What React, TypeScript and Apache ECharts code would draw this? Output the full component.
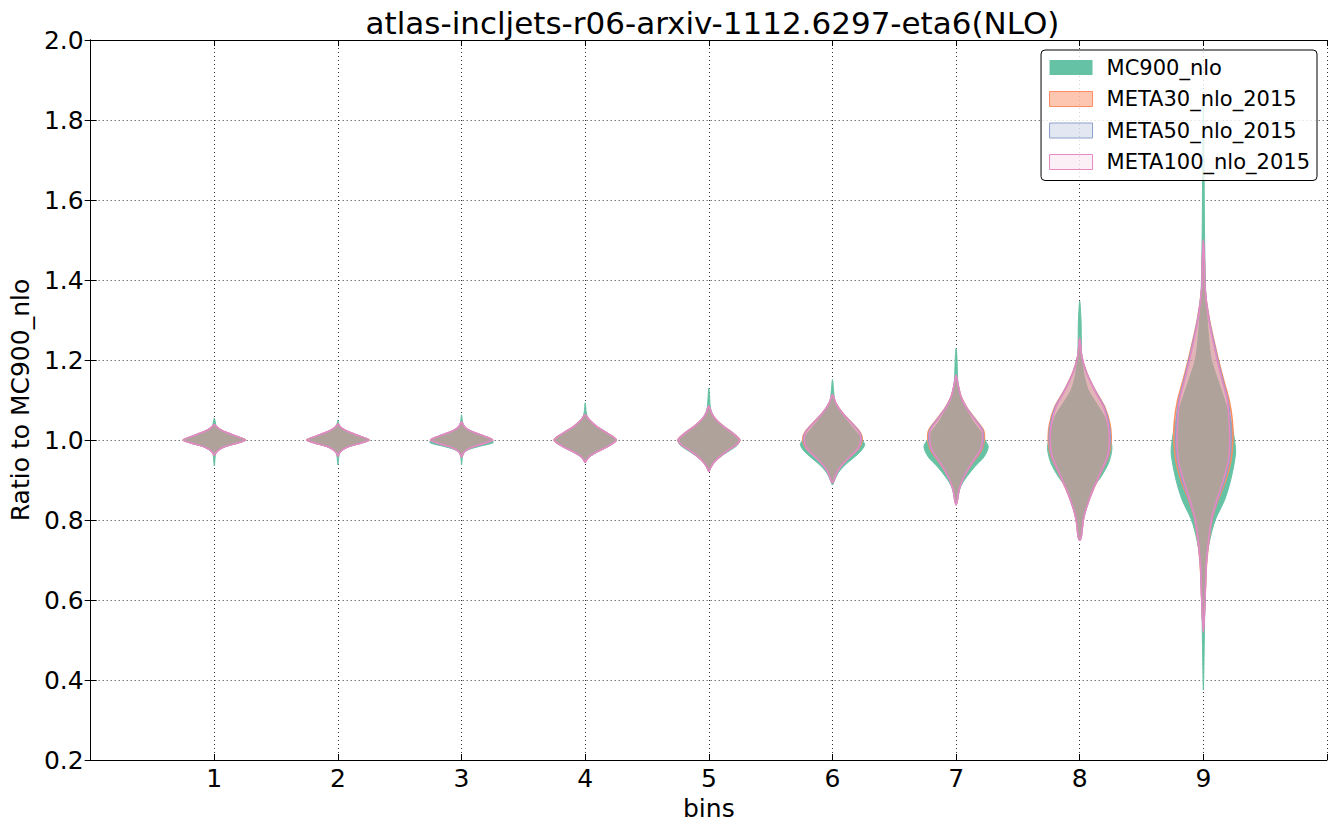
import React, { useEffect, useRef } from "react";
import * as echarts from "echarts";

// ---- data ----
const TITLE = "atlas-incljets-r06-arxiv-1112.6297-eta6(NLO)";
const binPositions = [1, 2, 3, 4, 5, 6, 7, 8, 9];
const seriesNames = ["MC900_nlo", "META30_nlo_2015", "META50_nlo_2015", "META100_nlo_2015"];
const yTicks = [0.2, 0.4, 0.6, 0.8, 1.0, 1.2, 1.4, 1.6, 1.8, 2.0];

// Each violin: [ratio value, relative half-width], listed from top to bottom
const mc900Profiles: number[][][] = [
  [[1.055, 0], [1.045, 0.03], [1.035, 0.06], [1.026, 0.2], [1.018, 0.4], [1.009, 0.7], [1.0, 0.97], [0.992, 0.72], [0.984, 0.36], [0.976, 0.15], [0.968, 0.05], [0.96, 0.03], [0.935, 0]],
  [[1.05, 0], [1.04, 0.03], [1.033, 0.07], [1.026, 0.19], [1.018, 0.4], [1.009, 0.7], [1.0, 0.97], [0.992, 0.72], [0.984, 0.36], [0.976, 0.15], [0.968, 0.05], [0.96, 0.03], [0.938, 0]],
  [[1.063, 0], [1.045, 0.03], [1.035, 0.07], [1.026, 0.2], [1.018, 0.42], [1.009, 0.72], [1.0, 0.95], [0.993, 0.98], [0.984, 0.55], [0.976, 0.22], [0.968, 0.08], [0.96, 0.03], [0.938, 0]],
  [[1.093, 0], [1.07, 0.03], [1.06, 0.06], [1.051, 0.13], [1.034, 0.36], [1.018, 0.67], [1.0, 0.97], [0.984, 0.72], [0.972, 0.42], [0.96, 0.17], [0.952, 0.06], [0.946, 0]],
  [[1.13, 0], [1.1, 0.03], [1.08, 0.05], [1.059, 0.15], [1.038, 0.38], [1.022, 0.6], [1.009, 0.82], [1.0, 0.95], [0.988, 0.9], [0.976, 0.7], [0.963, 0.45], [0.947, 0.2], [0.934, 0.08], [0.922, 0]],
  [[1.151, 0], [1.12, 0.04], [1.1, 0.07], [1.084, 0.15], [1.059, 0.35], [1.034, 0.6], [1.013, 0.82], [1.0, 0.93], [0.988, 1.0], [0.972, 0.88], [0.955, 0.65], [0.938, 0.4], [0.918, 0.18], [0.9, 0.07], [0.888, 0]],
  [[1.229, 0], [1.2, 0.03], [1.167, 0.04], [1.142, 0.06], [1.117, 0.12], [1.083, 0.3], [1.05, 0.5], [1.017, 0.8], [1.0, 0.9], [0.983, 1.0], [0.958, 0.87], [0.933, 0.58], [0.908, 0.33], [0.883, 0.14], [0.858, 0.06], [0.842, 0]],
  [[1.347, 0], [1.3, 0.04], [1.25, 0.05], [1.2, 0.07], [1.16, 0.14], [1.126, 0.26], [1.1, 0.45], [1.06, 0.76], [1.03, 0.88], [1.0, 0.97], [0.976, 1.0], [0.943, 0.9], [0.909, 0.67], [0.876, 0.38], [0.834, 0.2], [0.8, 0.1], [0.76, 0.04], [0.75, 0]],
  [[1.85, 0], [1.7, 0.02], [1.5, 0.04], [1.35, 0.08], [1.25, 0.17], [1.2, 0.25], [1.15, 0.45], [1.1, 0.66], [1.05, 0.85], [1.0, 0.97], [0.965, 1.0], [0.9, 0.85], [0.85, 0.66], [0.8, 0.37], [0.75, 0.2], [0.7, 0.1], [0.6, 0.05], [0.5, 0.03], [0.375, 0]],
];

const meta30Profiles: number[][][] = [
  [[1.038, 0], [1.034, 0.06], [1.026, 0.19], [1.018, 0.4], [1.009, 0.7], [1.0, 0.97], [0.992, 0.7], [0.984, 0.35], [0.976, 0.15], [0.968, 0.05], [0.962, 0]],
  [[1.04, 0], [1.033, 0.07], [1.026, 0.19], [1.018, 0.4], [1.009, 0.7], [1.0, 0.97], [0.992, 0.7], [0.984, 0.35], [0.976, 0.15], [0.968, 0.05], [0.96, 0]],
  [[1.045, 0], [1.035, 0.07], [1.026, 0.2], [1.018, 0.42], [1.009, 0.72], [1.0, 0.97], [0.992, 0.72], [0.984, 0.4], [0.976, 0.17], [0.968, 0.06], [0.958, 0]],
  [[1.063, 0], [1.051, 0.12], [1.034, 0.35], [1.018, 0.67], [1.0, 0.97], [0.984, 0.7], [0.972, 0.4], [0.96, 0.15], [0.951, 0.05], [0.944, 0]],
  [[1.085, 0], [1.068, 0.08], [1.051, 0.22], [1.034, 0.46], [1.018, 0.74], [1.0, 0.97], [0.988, 0.86], [0.976, 0.63], [0.959, 0.35], [0.943, 0.15], [0.93, 0.05], [0.922, 0]],
  [[1.113, 0], [1.093, 0.1], [1.068, 0.31], [1.043, 0.6], [1.018, 0.87], [1.0, 0.93], [0.98, 0.83], [0.959, 0.56], [0.938, 0.3], [0.918, 0.13], [0.9, 0.05], [0.893, 0]],
  [[1.162, 0], [1.142, 0.05], [1.108, 0.16], [1.083, 0.32], [1.05, 0.62], [1.025, 0.85], [1.0, 0.88], [0.975, 0.8], [0.95, 0.58], [0.925, 0.37], [0.9, 0.2], [0.875, 0.09], [0.85, 0.04], [0.838, 0]],
  [[1.255, 0], [1.21, 0.06], [1.17, 0.21], [1.126, 0.47], [1.084, 0.77], [1.04, 0.94], [1.0, 0.98], [0.96, 0.9], [0.918, 0.66], [0.876, 0.42], [0.834, 0.22], [0.8, 0.11], [0.76, 0.05], [0.75, 0]],
  [[1.5, 0], [1.45, 0.03], [1.38, 0.05], [1.3, 0.19], [1.2, 0.47], [1.15, 0.63], [1.1, 0.8], [1.05, 0.9], [1.0, 0.92], [0.95, 0.86], [0.9, 0.7], [0.85, 0.46], [0.8, 0.27], [0.7, 0.11], [0.6, 0.05], [0.52, 0]],
];

const meta50Profiles: number[][][] = [
  [[1.038, 0], [1.034, 0.06], [1.026, 0.19], [1.018, 0.4], [1.009, 0.7], [1.0, 0.96], [0.992, 0.7], [0.984, 0.35], [0.976, 0.15], [0.968, 0.05], [0.962, 0]],
  [[1.04, 0], [1.033, 0.07], [1.026, 0.19], [1.018, 0.4], [1.009, 0.7], [1.0, 0.96], [0.992, 0.7], [0.984, 0.35], [0.976, 0.15], [0.968, 0.05], [0.96, 0]],
  [[1.045, 0], [1.035, 0.07], [1.026, 0.2], [1.018, 0.42], [1.009, 0.72], [1.0, 0.96], [0.992, 0.72], [0.984, 0.4], [0.976, 0.17], [0.968, 0.06], [0.958, 0]],
  [[1.063, 0], [1.051, 0.12], [1.034, 0.35], [1.018, 0.67], [1.0, 0.96], [0.984, 0.7], [0.972, 0.4], [0.96, 0.15], [0.951, 0.05], [0.944, 0]],
  [[1.085, 0], [1.068, 0.08], [1.051, 0.22], [1.034, 0.45], [1.018, 0.73], [1.0, 0.96], [0.988, 0.85], [0.976, 0.63], [0.959, 0.35], [0.943, 0.15], [0.93, 0.05], [0.922, 0]],
  [[1.113, 0], [1.093, 0.1], [1.068, 0.3], [1.043, 0.59], [1.018, 0.85], [1.0, 0.9], [0.98, 0.81], [0.959, 0.55], [0.938, 0.3], [0.918, 0.13], [0.9, 0.05], [0.893, 0]],
  [[1.162, 0], [1.142, 0.05], [1.108, 0.15], [1.083, 0.31], [1.05, 0.6], [1.025, 0.82], [1.0, 0.85], [0.975, 0.77], [0.95, 0.56], [0.925, 0.36], [0.9, 0.2], [0.875, 0.09], [0.85, 0.04], [0.838, 0]],
  [[1.255, 0], [1.21, 0.06], [1.17, 0.2], [1.126, 0.46], [1.084, 0.75], [1.04, 0.91], [1.0, 0.95], [0.96, 0.88], [0.918, 0.65], [0.876, 0.41], [0.834, 0.22], [0.8, 0.11], [0.76, 0.05], [0.75, 0]],
  [[1.5, 0], [1.45, 0.03], [1.38, 0.05], [1.3, 0.18], [1.2, 0.45], [1.15, 0.6], [1.1, 0.76], [1.05, 0.84], [1.0, 0.86], [0.95, 0.81], [0.9, 0.66], [0.85, 0.44], [0.8, 0.26], [0.7, 0.1], [0.6, 0.05], [0.52, 0]],
];

const meta100Profiles: number[][][] = [
  [[1.038, 0], [1.034, 0.06], [1.026, 0.19], [1.018, 0.4], [1.009, 0.7], [1.0, 0.96], [0.992, 0.7], [0.984, 0.35], [0.976, 0.15], [0.968, 0.05], [0.962, 0]],
  [[1.04, 0], [1.033, 0.07], [1.026, 0.19], [1.018, 0.4], [1.009, 0.7], [1.0, 0.96], [0.992, 0.7], [0.984, 0.35], [0.976, 0.15], [0.968, 0.05], [0.96, 0]],
  [[1.045, 0], [1.035, 0.07], [1.026, 0.2], [1.018, 0.42], [1.009, 0.72], [1.0, 0.96], [0.992, 0.72], [0.984, 0.4], [0.976, 0.17], [0.968, 0.06], [0.958, 0]],
  [[1.063, 0], [1.051, 0.12], [1.034, 0.35], [1.018, 0.67], [1.0, 0.96], [0.984, 0.7], [0.972, 0.4], [0.96, 0.15], [0.951, 0.05], [0.944, 0]],
  [[1.085, 0], [1.068, 0.08], [1.051, 0.22], [1.034, 0.45], [1.018, 0.72], [1.0, 0.95], [0.988, 0.85], [0.976, 0.63], [0.959, 0.35], [0.943, 0.15], [0.93, 0.05], [0.922, 0]],
  [[1.113, 0], [1.093, 0.1], [1.068, 0.3], [1.043, 0.58], [1.018, 0.84], [1.0, 0.88], [0.98, 0.8], [0.959, 0.55], [0.938, 0.3], [0.918, 0.13], [0.9, 0.05], [0.893, 0]],
  [[1.162, 0], [1.142, 0.05], [1.108, 0.15], [1.083, 0.3], [1.05, 0.58], [1.025, 0.8], [1.0, 0.82], [0.975, 0.75], [0.95, 0.55], [0.925, 0.36], [0.9, 0.2], [0.875, 0.09], [0.85, 0.04], [0.838, 0]],
  [[1.255, 0], [1.21, 0.06], [1.17, 0.2], [1.126, 0.45], [1.084, 0.73], [1.04, 0.88], [1.0, 0.92], [0.96, 0.86], [0.918, 0.64], [0.876, 0.41], [0.834, 0.22], [0.8, 0.11], [0.76, 0.05], [0.75, 0]],
  [[1.5, 0], [1.45, 0.03], [1.38, 0.05], [1.3, 0.17], [1.2, 0.43], [1.15, 0.58], [1.1, 0.74], [1.05, 0.8], [1.0, 0.82], [0.95, 0.78], [0.9, 0.62], [0.85, 0.42], [0.8, 0.25], [0.7, 0.1], [0.6, 0.05], [0.52, 0]],
];

// ---- styling ----
const FONT = "DejaVu Sans";
const HALF_WIDTH = 0.26; // x-axis units for relative width 1
const fills = ["#66c2a5", "rgba(252,141,98,0.5)", "rgba(141,160,203,0.25)", "rgba(231,138,195,0.125)"];
const strokes = ["#66c2a5", "#fc8d62", "#8da0cb", "#e78ac3"];
const strokeWidths = [1, 1.5, 1.5, 1.5];
const allProfiles = [mc900Profiles, meta30Profiles, meta50Profiles, meta100Profiles];

function makeSeries(si: number) {
  const profiles = allProfiles[si];
  return {
    type: "custom",
    name: seriesNames[si],
    xAxisIndex: 0,
    yAxisIndex: 0,
    z: 2 + si,
    itemStyle: { color: strokes[si] },
    data: binPositions.map((b) => [b]),
    renderItem: (params: any, api: any) => {
      const idx = params.dataIndex;
      const x = binPositions[idx];
      const prof = profiles[idx];
      const right: number[][] = [];
      const left: number[][] = [];
      prof.forEach(([y, w]) => {
        right.push(api.coord([x + w * HALF_WIDTH, y]));
        left.push(api.coord([x - w * HALF_WIDTH, y]));
      });
      const pts = right.concat(left.slice(1, left.length - 1).reverse());
      return {
        type: "polygon",
        shape: { points: pts, smooth: 0.3 },
        style: { fill: fills[si], stroke: strokes[si], lineWidth: strokeWidths[si] },
      };
    },
  };
}

export default function App() {
  const ref = useRef<HTMLDivElement>(null);
  useEffect(() => {
    if (!ref.current) return;
    const chart = echarts.init(ref.current, undefined, { renderer: "svg" });
    const axisLine = { show: true, lineStyle: { color: "#000", width: 1 } };
    const tick = { show: true, inside: true, length: 6, lineStyle: { color: "#000", width: 1 } };
    const dotted = { show: true, lineStyle: { color: "#333", width: 1, type: [1, 3] } };
    chart.setOption({
      animation: false,
      backgroundColor: "#fff",
      textStyle: { fontFamily: FONT },
      title: {
        text: TITLE,
        left: 707.5,
        top: 2,
        textAlign: "center",
        textStyle: { fontFamily: FONT, fontSize: 31, fontWeight: "normal", color: "#000" },
      },
      grid: { left: 88, top: 40, width: 1239, height: 720, containLabel: false },
      legend: {
        show: true,
        orient: "vertical",
        right: 20,
        top: 50,
        z: 10,
        selectedMode: false,
        backgroundColor: "rgba(255,255,255,0.8)",
        borderColor: "#000",
        borderWidth: 1,
        borderRadius: 4,
        padding: [7, 7, 8, 8],
        itemWidth: 43,
        itemHeight: 15,
        itemGap: 10.5,
        textStyle: { fontFamily: FONT, fontSize: 21, color: "#000", padding: [0, 0, 0, 9] },
        data: seriesNames.map((n, i) => ({
          name: n,
          icon: "rect",
          itemStyle: {
            color: fills[i],
            borderColor: i === 0 ? fills[0] : strokes[i],
            borderWidth: i === 0 ? 0 : 1,
          },
        })),
      },
      xAxis: [
        {
          type: "value",
          min: 0,
          max: 10,
          interval: 1,
          position: "bottom",
          name: "bins",
          nameLocation: "middle",
          nameGap: 32,
          nameTextStyle: { fontFamily: FONT, fontSize: 25, color: "#000" },
          axisLine,
          axisTick: tick,
          axisLabel: {
            fontFamily: FONT,
            fontSize: 25,
            color: "#000",
            margin: 6,
            formatter: (v: number) => (v >= 1 && v <= 9 ? String(v) : ""),
          },
          splitLine: dotted,
        },
        {
          type: "value",
          min: 0,
          max: 10,
          interval: 1,
          position: "top",
          axisLine,
          axisTick: tick,
          axisLabel: { show: false },
          splitLine: { show: false },
        },
      ],
      yAxis: [
        {
          type: "value",
          min: yTicks[0],
          max: yTicks[yTicks.length - 1],
          interval: 0.2,
          position: "left",
          name: "Ratio to MC900_nlo",
          nameLocation: "middle",
          nameGap: 56,
          nameTextStyle: { fontFamily: FONT, fontSize: 25, color: "#000" },
          axisLine,
          axisTick: tick,
          axisLabel: {
            fontFamily: FONT,
            fontSize: 25,
            color: "#000",
            margin: 7,
            formatter: (v: number) => v.toFixed(1),
          },
          splitLine: dotted,
        },
        {
          type: "value",
          min: yTicks[0],
          max: yTicks[yTicks.length - 1],
          interval: 0.2,
          position: "right",
          axisLine,
          axisTick: tick,
          axisLabel: { show: false },
          splitLine: { show: false },
        },
      ],
      series: [0, 1, 2, 3].map((i) => makeSeries(i)),
    });
    return () => chart.dispose();
  }, []);
  return (
    <div
      ref={ref}
      style={{ position: "fixed", left: 0, top: 0, width: "1337px", height: "830px" }}
    />
  );
}
